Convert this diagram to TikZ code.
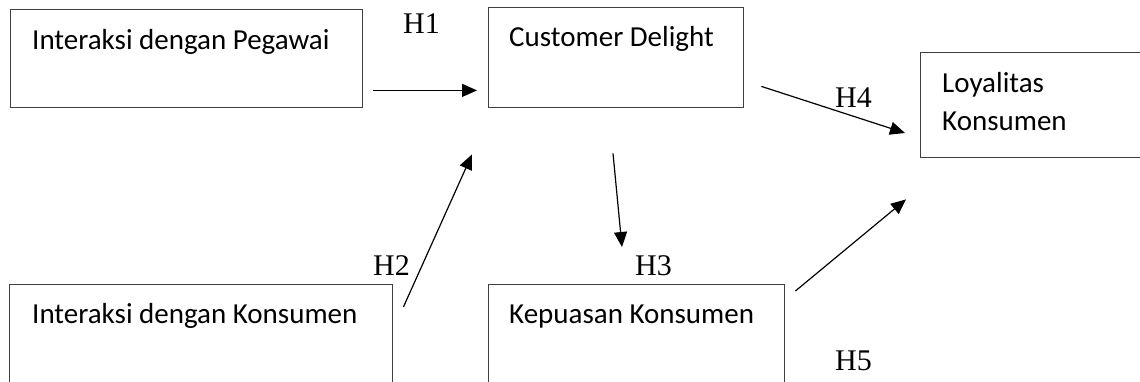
\documentclass[tikz,border=0pt]{standalone}
\usepackage{fontspec}
\setmainfont{Liberation Serif}
\newfontfamily\calibrifam{Carlito}
\usetikzlibrary{arrows.meta}
\tikzset{
  box/.style={draw=black!75, line width=1.4pt, rectangle, anchor=north west, inner sep=0pt},
  boxtext/.style={anchor=base west, inner sep=0pt, font=\calibrifam\fontsize{29}{35}\selectfont},
  hyp/.style={anchor=base west, inner sep=0pt, font=\fontsize{30}{36}\selectfont},
  arr/.style={draw=black, line width=1.2pt, -{Triangle[length=15pt,width=13pt]}}
}
\begin{document}
\begin{tikzpicture}[x=1pt,y=-1pt]
\useasboundingbox (0,0) rectangle (1140,381);
\clip (0,0) rectangle (1140,381);
\node[box, minimum width=352pt, minimum height=98pt,
  label={[boxtext, xshift=22pt, yshift=-40pt]north west:Interaksi dengan Pegawai}] (b1) at (10,9) {};
\node[box, minimum width=255pt, minimum height=100pt,
  label={[boxtext, xshift=21pt, yshift=-39pt]north west:Customer Delight}] (b2) at (488,7) {};
\node[box, minimum width=260pt, minimum height=105pt,
  label={[boxtext, xshift=22pt, yshift=-40pt]north west:Loyalitas},
  label={[boxtext, xshift=22pt, yshift=-78pt]north west:Konsumen}] (b3) at (920,52) {};
\node[box, minimum width=383pt, minimum height=120pt,
  label={[boxtext, xshift=23pt, yshift=-39pt]north west:Interaksi dengan Konsumen}] (b4) at (9,284) {};
\node[box, minimum width=296pt, minimum height=120pt,
  label={[boxtext, xshift=21pt, yshift=-39pt]north west:Kepuasan Konsumen}] (b5) at (488,284) {};

\node[hyp] (h1) at (403,33) {H1};
\node[hyp] (h2) at (373,275) {H2};
\node[hyp] (h3) at (635,275) {H3};
\node[hyp] (h4) at (835,107) {H4};
\node[hyp] (h5) at (835,370) {H5};

\draw[arr] ([shift={(10,-18)}]b1.south east) -- ([shift={(-11,-18)}]b2.south west);
\draw[arr] ([shift={(10,23)}]b4.north east) -- ([shift={(-16,46)}]b2.south west);
\draw[arr] ([shift={(125,45)}]b2.south west) -- ([shift={(134,-37)}]b5.north west);
\draw[arr] ([shift={(17,-22)}]b2.south east) -- ([shift={(-15,81)}]b3.north west);
\draw[arr] ([shift={(10,7)}]b5.north east) -- ([shift={(-14,41)}]b3.south west);
\end{tikzpicture}
\end{document}
